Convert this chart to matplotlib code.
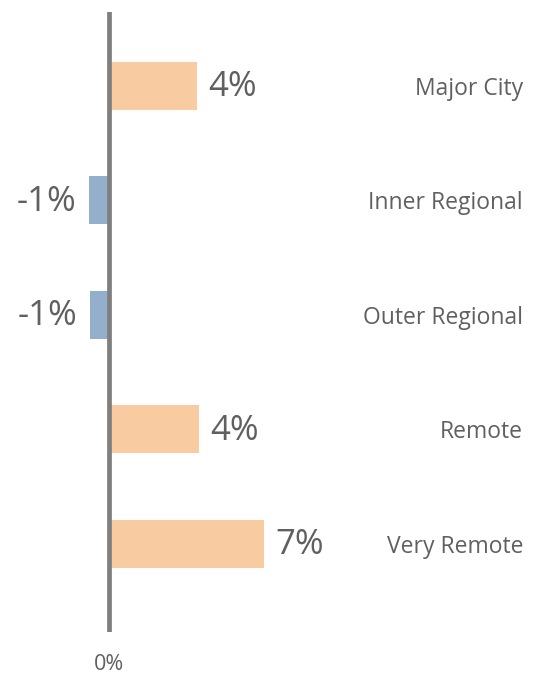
import matplotlib.pyplot as plt
import numpy as np

categories = ["Major City", "Inner Regional", "Outer Regional", "Remote", "Very Remote"]
values = [3.96, -0.9, -0.85, 4.05, 7.0]

POS_COLOR = "#F8CBA0"
NEG_COLOR = "#93AFCC"
TEXT_COLOR = "#606060"
AXIS_COLOR = "#7f7f7f"

plt.rcParams["font.family"] = ["Open Sans", "DejaVu Sans"]

fig = plt.figure(figsize=(5.37, 6.74), dpi=100)
ax = fig.add_axes([0.0, 42 / 674, 1.0, 620 / 674])

y = np.arange(len(categories))
colors = [POS_COLOR if v >= 0 else NEG_COLOR for v in values]
ax.barh(y, values, height=0.42, color=colors, zorder=2)
ax.axvline(0, color=AXIS_COLOR, linewidth=3.4, zorder=3)

for yi, v in zip(y, values):
    if v >= 0:
        ax.annotate(f"{v:.0f}%", (v, yi), xytext=(8, -1), textcoords="offset points",
                    ha="left", va="center", fontsize=25, color=TEXT_COLOR)
    else:
        ax.annotate(f"{v:.0f}%", (v, yi), xytext=(-9, -1), textcoords="offset points",
                    ha="right", va="center", fontsize=25, color=TEXT_COLOR)

for yi, name in zip(y, categories):
    ax.annotate(name, (0.974, yi), xycoords=("axes fraction", "data"), xytext=(0, -2),
                textcoords="offset points", ha="right", va="center",
                fontsize=16.5, color=TEXT_COLOR)

px = 22.2
ax.set_xlim(-109 / px, (537 - 109) / px)
ax.set_ylim(len(categories) - 1 + 0.77, -0.646)

ax.set_yticks([])
ax.set_xticks([0])
ax.set_xticklabels(["0%"])
ax.tick_params(axis="x", length=0, pad=16, labelsize=15.5, labelcolor=TEXT_COLOR)
for s in ax.spines.values():
    s.set_visible(False)

fig.savefig("out.png", dpi=100)
